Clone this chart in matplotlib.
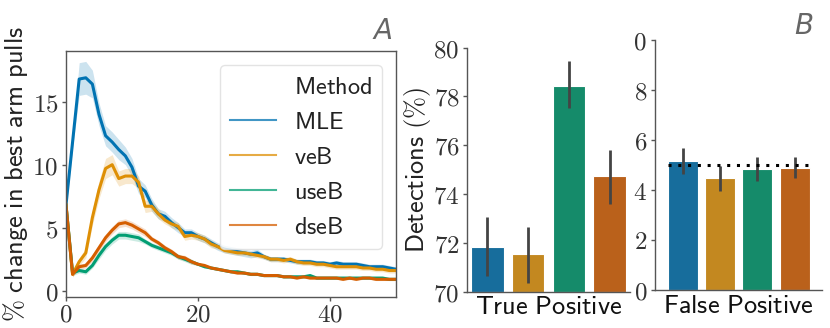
import numpy as np
import matplotlib
matplotlib.use("Agg")
import matplotlib.pyplot as plt
import seaborn as sns
from matplotlib.lines import Line2D
from matplotlib.patches import Rectangle
from matplotlib.ticker import FuncFormatter

plt.rcParams['mathtext.fontset'] = 'cm'

methods = ['MLE', 'veB', 'useB', 'dseB']

# panel A: % change in best arm pulls over time
steps = list(range(51))
mle = [6.8, 11.8, 16.8, 16.9, 16.4, 14.0, 12.3, 11.8, 11.2, 10.7, 9.8, 8.3, 7.9, 6.8, 6.1, 5.9, 5.4,
       5.0, 4.6, 4.6, 4.3, 4.1, 3.8, 3.5, 3.3, 3.2, 3.1, 3.0, 2.9, 3.0, 2.7, 2.5, 2.5, 2.5, 2.4,
       2.3, 2.3, 2.3, 2.2, 2.2, 2.1, 2.2, 2.1, 2.1, 2.1, 2.0, 1.9, 1.9, 1.9, 1.8, 1.7]
veb = [6.8, 1.3, 2.3, 3.0, 5.8, 8.0, 9.7, 10.0, 8.9, 9.1, 9.1, 8.6, 6.7, 6.7, 6.1, 5.6, 5.3,
       5.1, 4.3, 4.4, 4.3, 4.1, 3.7, 3.5, 3.2, 3.1, 3.0, 3.0, 2.9, 2.8, 2.7, 2.5, 2.5, 2.4, 2.5,
       2.3, 2.2, 2.2, 2.1, 2.1, 2.0, 1.9, 1.9, 1.9, 1.9, 1.8, 1.8, 1.7, 1.7, 1.6, 1.6]
useb = [6.8, 1.4, 1.6, 1.5, 2.0, 2.8, 3.5, 4.0, 4.4, 4.4, 4.3, 4.2, 3.9, 3.6, 3.4, 3.2, 3.0,
        2.7, 2.5, 2.3, 2.1, 1.9, 1.8, 1.7, 1.6, 1.5, 1.5, 1.4, 1.3, 1.3, 1.2, 1.2, 1.2, 1.1, 1.1,
        1.1, 1.1, 1.2, 1.0, 1.0, 1.0, 1.0, 1.0, 1.0, 1.0, 1.0, 1.0, 1.0, 1.0, 0.9, 0.9]
dseb = [6.8, 1.3, 1.9, 2.0, 2.6, 3.4, 4.2, 4.8, 5.3, 5.4, 5.2, 4.9, 4.6, 4.1, 3.8, 3.4, 3.1,
        2.7, 2.6, 2.3, 2.1, 2.0, 1.8, 1.7, 1.6, 1.5, 1.4, 1.4, 1.3, 1.3, 1.2, 1.2, 1.2, 1.1, 1.1,
        1.0, 1.1, 1.0, 1.0, 1.0, 1.0, 1.0, 0.9, 1.0, 0.9, 1.0, 1.0, 0.9, 0.9, 0.9, 0.9]
# half widths of the confidence bands
mle_ci = [0.3, 0.5, 1.3, 1.3, 1.1, 0.9, 0.8, 0.8, 0.8, 0.7, 0.7, 0.6, 0.5, 0.5, 0.4, 0.4, 0.4,
          0.4, 0.3, 0.3, 0.3, 0.3, 0.3, 0.3, 0.3, 0.3, 0.3, 0.3, 0.3, 0.3, 0.2, 0.2, 0.2, 0.2, 0.2,
          0.2, 0.2, 0.2, 0.2, 0.2, 0.2, 0.2, 0.2, 0.2, 0.2, 0.2, 0.2, 0.2, 0.2, 0.2, 0.2]
veb_ci = [0.3, 0.2, 0.3, 0.4, 0.6, 0.7, 0.8, 0.8, 0.6, 0.6, 0.6, 0.5, 0.5, 0.4, 0.4, 0.3, 0.3,
          0.3, 0.3, 0.3, 0.3, 0.3, 0.3, 0.2, 0.2, 0.2, 0.2, 0.2, 0.2, 0.2, 0.2, 0.2, 0.2, 0.2, 0.2,
          0.2, 0.2, 0.2, 0.2, 0.2, 0.2, 0.2, 0.2, 0.2, 0.2, 0.2, 0.2, 0.2, 0.2, 0.2, 0.2]
useb_ci = [0.3, 0.2, 0.2, 0.2, 0.2, 0.3, 0.3, 0.3, 0.3, 0.3, 0.3, 0.3, 0.2, 0.2, 0.2, 0.2, 0.2,
           0.2, 0.2, 0.2, 0.1, 0.1, 0.1, 0.1, 0.1, 0.1, 0.1, 0.1, 0.1, 0.1, 0.1, 0.1, 0.1, 0.1, 0.1,
           0.1, 0.1, 0.1, 0.1, 0.1, 0.1, 0.1, 0.1, 0.1, 0.1, 0.1, 0.1, 0.1, 0.1, 0.1, 0.1]
dseb_ci = [0.3, 0.2, 0.2, 0.2, 0.3, 0.3, 0.3, 0.3, 0.3, 0.3, 0.3, 0.3, 0.3, 0.2, 0.2, 0.2, 0.2,
           0.2, 0.2, 0.2, 0.1, 0.1, 0.1, 0.1, 0.1, 0.1, 0.1, 0.1, 0.1, 0.1, 0.1, 0.1, 0.1, 0.1, 0.1,
           0.1, 0.1, 0.1, 0.1, 0.1, 0.1, 0.1, 0.1, 0.1, 0.1, 0.1, 0.1, 0.1, 0.1, 0.1, 0.1]

# panel B: detection rates
tp_mean = [71.84, 71.54, 78.44, 74.74]
tp_lo = [70.64, 70.34, 77.51, 73.58]
tp_hi = [73.07, 72.64, 79.45, 75.81]
fp_mean = [5.16, 4.47, 4.83, 4.89]
fp_lo = [4.65, 3.97, 4.36, 4.47]
fp_hi = [5.69, 4.96, 5.33, 5.33]
alpha_level = 5.0

pal = sns.color_palette('colorblind')[:4]
bar_pal = [sns.desaturate(c, 0.75) for c in pal]
grey = '#555555'

def cm_fmt(v, pos):
    return r'$%g$' % v

def style_axis(ax, full_box=False):
    for s in ax.spines.values():
        s.set_color(grey)
        s.set_linewidth(1.0)
    if not full_box:
        ax.spines['top'].set_visible(False)
        ax.spines['right'].set_visible(False)
    ax.tick_params(colors=grey, labelcolor='#333333', labelsize=18, length=3, width=1, pad=2.5)
    ax.yaxis.set_major_formatter(FuncFormatter(cm_fmt))

fig = plt.figure(figsize=(8.3, 3.28), dpi=100)

# ---- panel A
ax1 = fig.add_axes([0.0795, 0.0954, 0.3975, 0.75])
series = [mle, veb, useb, dseb]
cis = [mle_ci, veb_ci, useb_ci, dseb_ci]
for i, (y, ci) in enumerate(zip(series, cis)):
    y = np.array(y)
    ci = np.array(ci)
    ax1.fill_between(steps, y - ci, y + ci, color=pal[i], alpha=0.2, lw=0)
    ax1.plot(steps, y, color=pal[i], lw=2.2)
ax1.set_xlim(0, 50)
ax1.set_ylim(-0.48, 19.05)
ax1.set_xticks([0, 20, 40])
ax1.set_yticks([0, 5, 10, 15])
style_axis(ax1, full_box=True)
ax1.tick_params(axis='x', pad=1)
ax1.xaxis.set_major_formatter(FuncFormatter(cm_fmt))
ax1.set_ylabel(r'$\mathsf{\%\ change\ in\ best\ arm\ pulls}$', fontsize=19, color='#222222', labelpad=2)

handles = [Line2D([], [], color='none')]
labels = [r'$\mathsf{Method}$']
for i, m in enumerate(methods):
    handles.append(Line2D([], [], color=pal[i], lw=1.5, alpha=0.75))
    labels.append(r'$\mathsf{%s}$' % m)
leg = ax1.legend(handles, labels, loc='upper right', fontsize=17.5, handlelength=1.9,
                 labelspacing=0.45, borderpad=0.4, handletextpad=0.75,
                 bbox_to_anchor=(0.995, 0.99), framealpha=0.8)
leg.get_frame().set_edgecolor('#dddddd')
for t in leg.get_texts():
    t.set_color('#222222')
fig.text(0.462, 0.905, 'A', fontsize=20, style='italic', color='#666666',
         family='DejaVu Sans', ha='center', va='center')

# ---- panel B, true positives
ax2 = fig.add_axes([0.5627, 0.1107, 0.1963, 0.744])
pos = np.arange(len(methods))
ax2.bar(pos, np.array(tp_mean) - 70, bottom=70, width=0.8, color=bar_pal,
        edgecolor='white', linewidth=0.8)
ax2.vlines(pos, tp_lo, tp_hi, color='#444444', lw=2)
ax2.set_xlim(-0.5, 3.5)
ax2.set_ylim(70, 80)
ax2.set_yticks([70, 72, 74, 76, 78, 80])
style_axis(ax2)
ax2.set_xticks([1.5])
ax2.set_xticklabels([r'$\mathsf{True\ Positive}$'], fontsize=19, color='#111111')
ax2.tick_params(axis='x', length=0, pad=2)
ax2.set_ylabel(r'$\mathsf{Detections\ (\%)}$', fontsize=19, color='#222222', labelpad=0)

# ---- panel B, false positives
ax3 = fig.add_axes([0.789, 0.1159, 0.201, 0.762])
ax3.bar(pos, fp_mean, width=0.8, color=bar_pal, edgecolor='white', linewidth=0.8)
ax3.vlines(pos, fp_lo, fp_hi, color='#444444', lw=2)
ax3.plot([-0.4, 3.45], [alpha_level, alpha_level], ls=(0, (1, 2.2)), color='black', lw=2.2)
ax3.set_xlim(-0.74, 3.72)
ax3.set_ylim(0, 10)
ax3.set_yticks([0, 2, 4, 6, 8, 10])
style_axis(ax3)
ax3.set_xticks([1.5])
ax3.set_xticklabels([r'$\mathsf{False\ Positive}$'], fontsize=19, color='#111111')
ax3.tick_params(axis='x', length=0, pad=2)
fig.text(0.968, 0.92, 'B', fontsize=20, style='italic', color='#666666',
         family='DejaVu Sans', ha='center', va='center')

# the leading "1" of the top tick is cut off in the original figure
fig.patches.append(Rectangle((0.745, 0.835), 0.019, 0.09, transform=fig.transFigure,
                             facecolor='white', edgecolor='none', zorder=10))

fig.savefig('out.png', dpi=100)
